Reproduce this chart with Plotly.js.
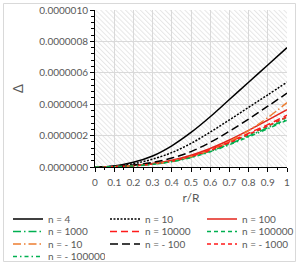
<!DOCTYPE html>
<html>
<head>
<meta charset="utf-8">
<script src="https://cdn.plot.ly/plotly-3.0.1.min.js"></script>
<style>
html,body{margin:0;padding:0;background:#fff;}
#chart{width:300px;height:267px;}
</style>
</head>
<body>
<div id="chart"></div>
<script>
// r/R positions
var rR = [0, 0.1, 0.2, 0.3, 0.4, 0.5, 0.6, 0.7, 0.8, 0.9, 1.0];

// Δ values per series
var n4       = [0, 0.007e-6, 0.030e-6, 0.070e-6, 0.135e-6, 0.220e-6, 0.320e-6, 0.430e-6, 0.540e-6, 0.650e-6, 0.760e-6];
var n10      = [0, 0.005e-6, 0.021e-6, 0.050e-6, 0.092e-6, 0.150e-6, 0.222e-6, 0.300e-6, 0.380e-6, 0.460e-6, 0.540e-6];
var n100     = [0, 0.002e-6, 0.009e-6, 0.022e-6, 0.043e-6, 0.075e-6, 0.118e-6, 0.172e-6, 0.233e-6, 0.298e-6, 0.365e-6];
var n1000    = [0, 0.002e-6, 0.007e-6, 0.018e-6, 0.035e-6, 0.062e-6, 0.100e-6, 0.146e-6, 0.197e-6, 0.250e-6, 0.305e-6];
var n10000   = [0, 0.002e-6, 0.008e-6, 0.020e-6, 0.038e-6, 0.068e-6, 0.110e-6, 0.160e-6, 0.215e-6, 0.270e-6, 0.330e-6];
var n100000  = [0, 0.002e-6, 0.0075e-6, 0.019e-6, 0.036e-6, 0.064e-6, 0.104e-6, 0.152e-6, 0.205e-6, 0.260e-6, 0.318e-6];
var nm10     = [0, 0.002e-6, 0.008e-6, 0.019e-6, 0.037e-6, 0.065e-6, 0.106e-6, 0.162e-6, 0.232e-6, 0.315e-6, 0.410e-6];
var nm100    = [0, 0.003e-6, 0.012e-6, 0.029e-6, 0.057e-6, 0.098e-6, 0.157e-6, 0.228e-6, 0.305e-6, 0.387e-6, 0.470e-6];
var nm1000   = [0, 0.002e-6, 0.008e-6, 0.019e-6, 0.037e-6, 0.066e-6, 0.106e-6, 0.155e-6, 0.208e-6, 0.262e-6, 0.320e-6];
var nm100000 = [0, 0.002e-6, 0.007e-6, 0.017e-6, 0.034e-6, 0.060e-6, 0.097e-6, 0.142e-6, 0.192e-6, 0.244e-6, 0.298e-6];

var seriesNames = ['n = 4', 'n = 10', 'n = 100', 'n = 1000', 'n = 10000', 'n = 100000',
                   'n = - 10', 'n = - 100', 'n = - 1000', 'n = - 100000'];
var seriesData = [n4, n10, n100, n1000, n10000, n100000, nm10, nm100, nm1000, nm100000];

var styles = [
  {color:'#000000', dash:'solid'},
  {color:'#000000', dash:'2px,1.5px'},
  {color:'#e3241b', dash:'solid'},
  {color:'#00b050', dash:'8px,3px,1.5px,3px'},
  {color:'#ff1a1a', dash:'7px,4px'},
  {color:'#00b050', dash:'4px,3px'},
  {color:'#ed7d31', dash:'8px,3px,1.5px,3px'},
  {color:'#000000', dash:'8px,4px'},
  {color:'#ff1a1a', dash:'4px,3px'},
  {color:'#00b050', dash:'4px,3px,1.5px,3px'}
];
var legendIds = ['legend','legend','legend','legend2','legend2','legend2','legend3','legend3','legend3','legend4'];

var traces = seriesData.map(function(d, i){
  return {
    x: rR, y: d, name: seriesNames[i], type:'scatter', mode:'lines', legend: legendIds[i],
    line:{color:styles[i].color, dash:styles[i].dash, width:1.5, shape:'spline', smoothing:1}
  };
});

var hatch = "<svg xmlns='http://www.w3.org/2000/svg' width='192' height='157'>" +
  "<defs><pattern id='p' width='3.5' height='3.5' patternUnits='userSpaceOnUse' patternTransform='rotate(-45)'>" +
  "<line x1='0.5' y1='0' x2='0.5' y2='3.5' stroke='#e6e6e6' stroke-width='1'/></pattern></defs>" +
  "<rect width='192' height='157' fill='#ffffff'/><rect width='192' height='157' fill='url(#p)'/></svg>";

var W = 300, H = 267, ml = 95, mr = 13, mt = 10, mb = 100;
var pw = W - ml - mr, ph = H - mt - mb;
function px2x(p){ return (p - ml) / pw; }
function py2y(p){ return (H - mb - p) / ph; }

var gray = '#595959';
function legendRow(yPix){
  return {
    orientation: 'h',
    x: px2x(8), y: py2y(yPix), xanchor: 'left', yanchor: 'middle',
    entrywidth: 52, entrywidthmode: 'pixels',
    font: {size: 10, color: gray},
    bgcolor: 'rgba(0,0,0,0)', borderwidth: 0, tracegroupgap: 0, itemwidth: 30
  };
}

var layout = {
  width: W, height: H,
  margin: {l: ml, r: mr, t: mt, b: mb, pad: 0, autoexpand: false},
  paper_bgcolor: '#ffffff',
  plot_bgcolor: 'rgba(0,0,0,0)',
  font: {family: 'Lato, "Open Sans", sans-serif', size: 10, color: gray},
  showlegend: true,
  xaxis: {
    range: [0, 1], dtick: 0.1, tick0: 0,
    showgrid: true, gridcolor: '#d9d9d9', gridwidth: 1,
    zeroline: false, showline: true, linecolor: '#000000', linewidth: 1,
    ticks: 'outside', ticklen: 4, tickcolor: '#000000', tickwidth: 1,
    minor: {dtick: 0.05, ticks: 'outside', ticklen: 2, tickcolor: '#000000', showgrid: false},
    tickfont: {size: 10, color: gray}, ticklabelstandoff: 2,
    title: {text: 'r/R', font: {size: 12, color: gray}, standoff: 6},
    fixedrange: true
  },
  yaxis: {
    range: [0, 1e-6], dtick: 2e-7, tick0: 0, tickformat: '.7f',
    showgrid: true, gridcolor: '#d9d9d9', gridwidth: 1,
    zeroline: false, showline: true, linecolor: '#000000', linewidth: 1,
    ticks: 'outside', ticklen: 4, tickcolor: '#000000', tickwidth: 1,
    minor: {dtick: 4e-8, ticks: 'outside', ticklen: 3, tickcolor: '#000000', showgrid: false},
    tickfont: {size: 10, color: gray},
    title: {text: 'Δ', font: {size: 13, color: gray}, standoff: 12},
    fixedrange: true
  },
  legend: legendRow(219),
  legend2: legendRow(231.5),
  legend3: legendRow(244),
  legend4: legendRow(256.5),
  images: [{
    source: 'data:image/svg+xml;charset=utf-8,' + encodeURIComponent(hatch),
    xref: 'paper', yref: 'paper', x: 0, y: 1, sizex: 1, sizey: 1,
    xanchor: 'left', yanchor: 'top', sizing: 'stretch', layer: 'below'
  }],
  shapes: [{
    type: 'rect', xref: 'paper', yref: 'paper',
    x0: px2x(3.5), x1: px2x(295.5), y0: py2y(261.5), y1: py2y(3.5),
    line: {color: '#d9d9d9', width: 1}, fillcolor: 'rgba(0,0,0,0)', layer: 'below'
  }]
};

Plotly.newPlot('chart', traces, layout, {displayModeBar: false, staticPlot: true});
</script>
</body>
</html>
